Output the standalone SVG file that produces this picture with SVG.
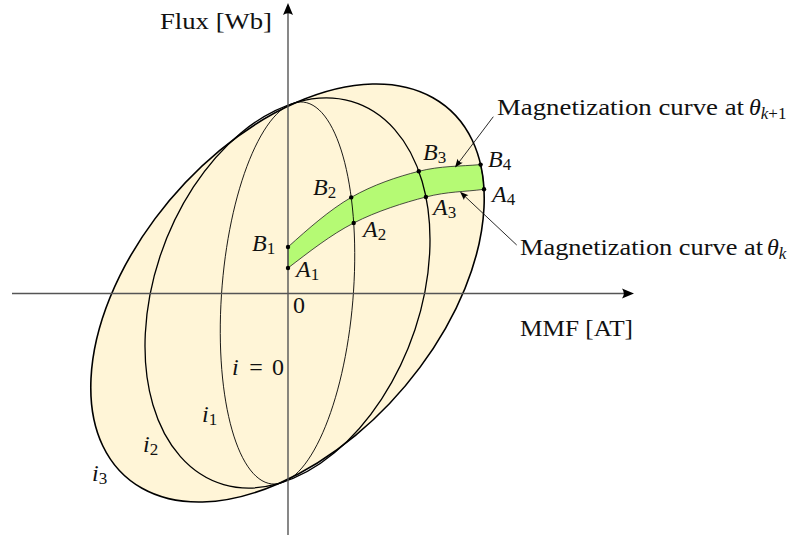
<svg xmlns="http://www.w3.org/2000/svg" width="805" height="537" viewBox="0 0 805 537">
<style>
.t{font-family:"Liberation Serif","Times New Roman",serif;font-size:24px;fill:#111}
.m{font-family:"Liberation Serif","Times New Roman",serif;font-size:24px;font-style:italic;fill:#111}
.sub{font-size:17px;font-style:normal}
.subi{font-size:17px;font-style:italic}
.loop{fill:none;stroke:#000}
.dot{fill:#000}
.axis{stroke:#555;stroke-width:1.4;fill:none}
.ann{stroke:#111;stroke-width:0.9;fill:none}
</style>
<defs>
<marker id="ax" markerUnits="userSpaceOnUse" markerWidth="14" markerHeight="12" viewBox="-9 -6 14 12" refX="0" refY="0" orient="auto">
<path d="M4,0 L-8,-5 Q-4.5,0 -8,5 Z" fill="#000"/>
</marker>
<marker id="sa" markerUnits="userSpaceOnUse" markerWidth="10" markerHeight="8" viewBox="-6 -4 10 8" refX="0" refY="0" orient="auto">
<path d="M3,0 L-5.5,-3.3 Q-3,0 -5.5,3.3 Z" fill="#000"/>
</marker>
</defs>

<g id="loop-fill">
<path d="M484,207.5 C489.08,102.18 405.23,55.08 296.7,102.3 C188.17,149.52 96.08,273.18 91,378.5 C85.92,483.82 169.77,530.92 278.3,483.7 C386.83,436.48 478.92,312.82 484,207.5 Z" fill="#fff5d7"/>
</g>

<g id="band">
<path d="M288,247 C308,229 329.4,210 351.2,197.4 C373,184.8 397.2,176.8 418.8,171.3 C440.4,165.8 460,166.4 480.6,164.6 Q483.5,177 484,189.3 C464.6,191.9 447.6,191.4 425.9,197 C404.2,202.6 376.7,211.2 353.7,223 C330.7,234.8 309,252 288,268 Z" fill="#b5fa74" stroke="#222" stroke-width="0.8"/>
</g>

<g id="loop-i1">
<path class="loop" stroke-width="0.9" d="M354.1,281.3 C359.18,175.98 333.48,95.84 296.7,102.3 C259.92,108.76 225.98,199.38 220.9,304.7 C215.82,410.02 241.52,490.16 278.3,483.7 C315.08,477.24 349.02,386.62 354.1,281.3 Z"/>
</g>
<g id="loop-i2">
<path class="loop" stroke-width="1.3" d="M429.7,252.3 C434.78,146.98 375.24,79.82 296.7,102.3 C218.16,124.78 150.38,228.38 145.3,333.7 C140.22,439.02 199.76,506.18 278.3,483.7 C356.84,461.22 424.62,357.62 429.7,252.3 Z"/>
</g>
<g id="loop-i3">
<path class="loop" stroke-width="1.6" d="M484,207.5 C489.08,102.18 405.23,55.08 296.7,102.3 C188.17,149.52 96.08,273.18 91,378.5 C85.92,483.82 169.77,530.92 278.3,483.7 C386.83,436.48 478.92,312.82 484,207.5 Z"/>
</g>

<g id="axes">
<line class="axis" x1="288" y1="535" x2="288" y2="7" marker-end="url(#ax)"/>
<line class="axis" x1="12" y1="293.5" x2="630" y2="293.5" marker-end="url(#ax)"/>
</g>

<g id="points">
<circle class="dot" cx="288" cy="247" r="2.2"/>
<circle class="dot" cx="288" cy="268" r="2.2"/>
<circle class="dot" cx="351.2" cy="197.4" r="2.2"/>
<circle class="dot" cx="353.7" cy="223" r="2.2"/>
<circle class="dot" cx="418.8" cy="171.3" r="2.2"/>
<circle class="dot" cx="425.9" cy="197" r="2.2"/>
<circle class="dot" cx="480.6" cy="164.6" r="2.2"/>
<circle class="dot" cx="484" cy="189.3" r="2.2"/>
</g>

<g id="connectors">
<line class="ann" x1="493.3" y1="116.7" x2="456.8" y2="165.1" marker-end="url(#sa)"/>
<line class="ann" x1="516.7" y1="245" x2="462.2" y2="193.8" marker-end="url(#sa)"/>
</g>

<g id="axis-labels">
<text class="t" x="160" y="29" textLength="112" lengthAdjust="spacingAndGlyphs">Flux [Wb]</text>
<text class="t" x="520" y="336" textLength="113" lengthAdjust="spacingAndGlyphs">MMF [AT]</text>
<text class="t" x="293" y="313">0</text>
</g>

<g id="curve-labels">
<text class="t" x="497" y="115" textLength="247" lengthAdjust="spacingAndGlyphs">Magnetization curve at</text>
<text class="m" x="749" y="115">θ<tspan class="subi" dy="4">k</tspan><tspan class="sub">+1</tspan></text>
<text class="t" x="520" y="255" textLength="243" lengthAdjust="spacingAndGlyphs">Magnetization curve at</text>
<text class="m" x="767" y="255">θ<tspan class="subi" dy="4">k</tspan></text>
</g>

<g id="point-labels">
<text class="m" x="252" y="251">B<tspan class="sub" dy="3">1</tspan></text>
<text class="m" x="296" y="277">A<tspan class="sub" dy="3">1</tspan></text>
<text class="m" x="313" y="195">B<tspan class="sub" dy="3">2</tspan></text>
<text class="m" x="363" y="237">A<tspan class="sub" dy="3">2</tspan></text>
<text class="m" x="423" y="160">B<tspan class="sub" dy="3">3</tspan></text>
<text class="m" x="433" y="215">A<tspan class="sub" dy="3">3</tspan></text>
<text class="m" x="488" y="167">B<tspan class="sub" dy="3">4</tspan></text>
<text class="m" x="492" y="202">A<tspan class="sub" dy="3">4</tspan></text>
</g>

<g id="loop-labels">
<text class="m" x="232" y="375">i</text>
<text class="t" x="256" y="375" text-anchor="middle">=</text>
<text class="t" x="272" y="375">0</text>
<text class="m" x="202" y="422">i<tspan class="sub" dy="3">1</tspan></text>
<text class="m" x="143" y="452">i<tspan class="sub" dy="3">2</tspan></text>
<text class="m" x="92" y="481">i<tspan class="sub" dy="3">3</tspan></text>
</g>
</svg>
